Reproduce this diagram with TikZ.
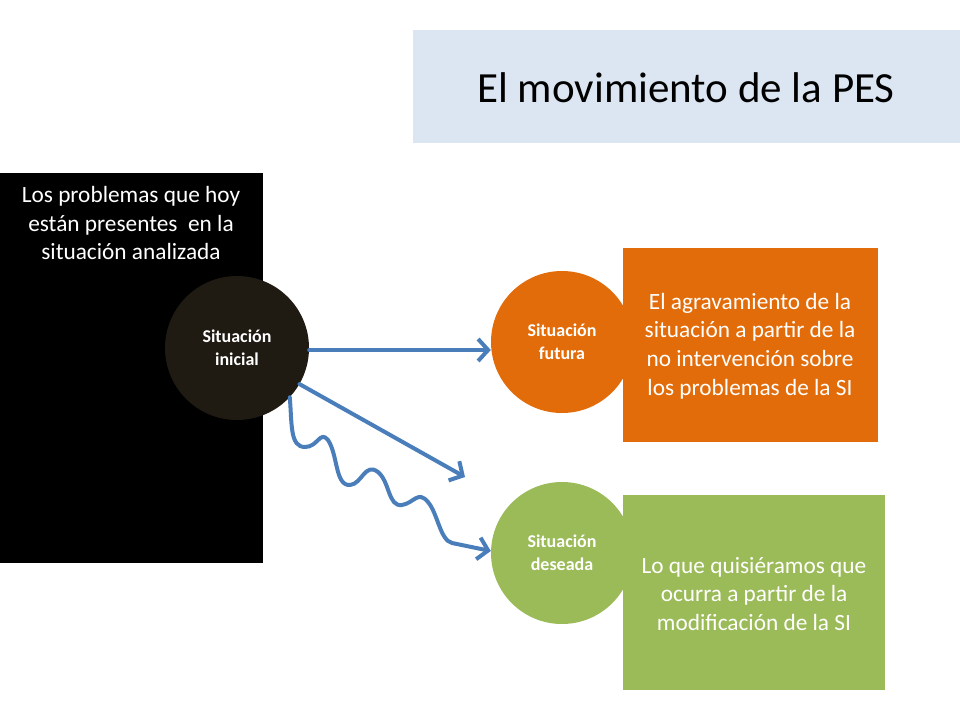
\documentclass[tikz,border=0pt]{standalone}
\usepackage{fontspec}
\setmainfont{Carlito}
\usetikzlibrary{arrows.meta}
\definecolor{titlebg}{HTML}{DCE6F2}
\definecolor{darkc}{HTML}{1F1A12}
\definecolor{orangec}{HTML}{E36C0A}
\definecolor{greenc}{HTML}{9BBB59}
\definecolor{arrowc}{HTML}{4A7EBB}
\tikzset{
  boxtext/.style={text=white, align=center, font=\fontsize{23.3}{28.8}\selectfont},
  circlabel/.style={circle, text=white, align=center, font=\bfseries\fontsize{18}{23}\selectfont, inner sep=0pt},
  conn/.style={draw=arrowc, line width=4pt, -{Straight Barb[length=10pt,width=22pt,line width=4pt]}, line cap=round, line join=round}
}
\begin{document}
\begin{tikzpicture}[x=1pt,y=-1pt]
\useasboundingbox (0,0) rectangle (960,720);
\fill[white] (0,0) rectangle (960,720);
% title
\fill[titlebg] (413,30) rectangle (960,143);
\node[font=\fontsize{43}{50}\selectfont, text=black] (title) at (686,88) {El movimiento de la PES};
% black box
\fill[black] (0,173) rectangle (263,563);
\node[boxtext] (prob) at (131,223) {Los problemas que hoy\\están presentes\ \ en la\\situación analizada};
% orange box
\fill[orangec] (623,248) rectangle (878,442);
\node[boxtext] (agr) at (750,346) {El agravamiento de la\\situación a partir de la\\no intervención sobre\\los problemas de la SI};
% green box
\fill[greenc] (623,495) rectangle (885,690);
\node[boxtext] (quis) at (754,594) {Lo que quisiéramos que\\ocurra a partir de la\\modificación de la SI};
% circles
\node[circlabel, fill=darkc, minimum size=144pt] (ini) at (237,348) {Situación\\inicial};
\node[circlabel, fill=orangec, minimum size=142pt] (fut) at (562,342) {Situación\\futura};
\node[circlabel, fill=greenc, minimum size=142pt] (des) at (562,553) {Situación\\deseada};
% connectors
\coordinate (diagend) at (465,477);
\draw[conn] (ini.east |- 0,350) -- (fut.west |- 0,350);
\draw[conn] (ini.-30) -- (diagend);
\draw[conn] (ini.-43) .. controls (292,425) and (290,447) .. (305,447)
  .. controls (318,447) and (320,430) .. (328,440)
  .. controls (338,455) and (335,486) .. (350,485)
  .. controls (362,484) and (365,462) .. (378,472)
  .. controls (390,482) and (388,507) .. (402,505)
  .. controls (414,503) and (418,490) .. (428,502)
  .. controls (438,514) and (440,540) .. (452,543)
  -- (des.west |- 0,551);
\end{tikzpicture}
\end{document}
